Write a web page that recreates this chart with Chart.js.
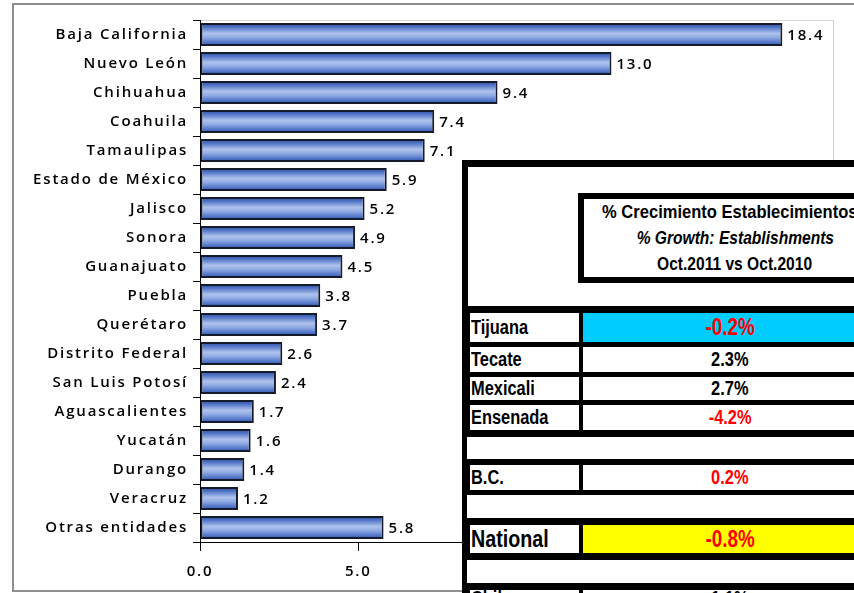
<!DOCTYPE html>
<html>
<head>
<meta charset="utf-8">
<script src="https://cdn.jsdelivr.net/npm/chart.js@4.4.0/dist/chart.umd.min.js"></script>
<style>
  html, body { margin:0; padding:0; width:854px; height:593px; overflow:hidden; background:#fff; }
  #frame { position:absolute; left:12px; top:3px; width:900px; height:585px; border:2px solid #8f8f8f; z-index:0; }
  #c { position:absolute; left:0; top:0; z-index:1; }
  #tbl { position:absolute; left:0; top:0; width:854px; height:593px; z-index:2; overflow:hidden; }
  .blk { position:absolute; background:#000; }
  .cell { position:absolute; background:#fff; overflow:hidden; display:flex; align-items:center;
          font-family:"Liberation Sans", Arial, sans-serif; font-weight:bold; color:#000; white-space:nowrap; }
  .cell span { display:inline-block; transform:scaleX(0.82); }
  .lab span { transform-origin:left center; }
  .val { justify-content:center; }
  .val span { transform-origin:center center; }
  .hdr { position:absolute; overflow:hidden; text-align:center; font-family:"Liberation Sans", Arial, sans-serif;
         font-weight:bold; font-size:19px; line-height:26px; color:#000; white-space:nowrap; }
  .hdr div span { display:inline-block; transform:scaleX(0.82); transform-origin:center center; }
</style>
</head>
<body>
<div id="frame"></div>
<canvas id="c" width="854" height="593"></canvas>
<div id="tbl"></div>
<script>
// ---- chart data ----
const categories = ["Baja California","Nuevo León","Chihuahua","Coahuila","Tamaulipas","Estado de México",
  "Jalisco","Sonora","Guanajuato","Puebla","Querétaro","Distrito Federal","San Luis Potosí",
  "Aguascalientes","Yucatán","Durango","Veracruz","Otras entidades"];
const values = [18.4,13.0,9.4,7.4,7.1,5.9,5.2,4.9,4.5,3.8,3.7,2.6,2.4,1.7,1.6,1.4,1.2,5.8];
const xMin = 0, xMax = 20, xStep = 5;

// ---- table data ----
const headerLines = ["% Crecimiento Establecimientos", "% Growth: Establishments", "Oct.2011 vs Oct.2010"];
const tableLabels = ["Tijuana","Tecate","Mexicali","Ensenada","","B.C.","","National","","Chile"];
const tableValues = ["-0.2%","2.3%","2.7%","-4.2%","","0.2%","","-0.8%","","1.1%"];

// ---- table layout (positions/styles only) ----
const rowLayout = [
  {y:313,h:29,fs:20,vfs:23,bg:"#00CCFF",col:"#FF0000"},
  {y:347,h:25,fs:20,vfs:20,bg:"#fff",col:"#000"},
  {y:377,h:23,fs:20,vfs:20,bg:"#fff",col:"#000"},
  {y:405,h:25,fs:20,vfs:20,bg:"#fff",col:"#FF0000"},
  {y:437,h:22,empty:true},
  {y:465,h:25,fs:20,vfs:20,bg:"#fff",col:"#FF0000"},
  {y:495,h:23,empty:true},
  {y:525,h:28,fs:24,vfs:23,bg:"#FFFF00",col:"#FF0000"},
  {y:560,h:23,empty:true},
  {y:590,h:25,fs:20,vfs:20,bg:"#fff",col:"#000",top:true}
];

const tbl = document.getElementById('tbl');
function box(cls, x, y, w, h, bg) {
  const d = document.createElement('div');
  d.className = cls;
  d.style.left = x + 'px'; d.style.top = y + 'px';
  d.style.width = w + 'px'; d.style.height = h + 'px';
  if (bg) d.style.background = bg;
  tbl.appendChild(d);
  return d;
}
box('blk', 462, 160, 600, 500);
box('cell', 468, 167, 600, 139);
box('blk', 578, 193, 500, 90);
const hdr = box('hdr', 584, 199, 302, 78, '#fff');
headerLines.forEach((t, i) => {
  const line = document.createElement('div');
  const s = document.createElement('span');
  s.textContent = t;
  if (i === 1) s.style.fontStyle = 'italic';
  if (i === 0) s.style.transform = 'translateX(-5px) scaleX(0.87)';
  line.appendChild(s);
  hdr.appendChild(line);
});
tableLabels.forEach((lab, i) => {
  const L = rowLayout[i];
  if (L.empty) { box('cell', 467, L.y, 600, L.h); return; }
  const a = box('cell lab', 470, L.y, 108, L.h);
  a.style.fontSize = L.fs + 'px';
  a.style.paddingLeft = '1px';
  a.innerHTML = '<span></span>';
  a.firstChild.textContent = lab;
  const v = box('cell val', 583, L.y, 294, L.h, L.bg);
  v.style.fontSize = L.vfs + 'px';
  v.style.color = L.col;
  v.innerHTML = '<span></span>';
  v.firstChild.textContent = tableValues[i];
  if (L.top) {
    a.style.alignItems = 'flex-start'; v.style.alignItems = 'flex-start';
    a.style.lineHeight = '16px'; v.style.lineHeight = '16px';
  }
});

// ---- chart ----
const labelFont = { family: '"Open Sans", sans-serif', size: 15, weight: '600' };
const SPACING = '1.8px';

const plotBorder = {
  id: 'plotBorder',
  beforeDraw(chart) {
    const { ctx, chartArea: a } = chart;
    ctx.letterSpacing = SPACING;
    ctx.save();
    ctx.strokeStyle = '#d4d4d4';
    ctx.lineWidth = 1;
    ctx.strokeRect(a.left + 0.5, a.top + 0.5, a.width, a.height);
    ctx.restore();
  }
};
const valueLabels = {
  id: 'valueLabels',
  afterDatasetsDraw(chart) {
    const { ctx } = chart;
    const meta = chart.getDatasetMeta(0);
    ctx.save();
    ctx.letterSpacing = SPACING;
    ctx.font = '600 15px "Open Sans", sans-serif';
    ctx.fillStyle = '#000';
    ctx.textAlign = 'left';
    ctx.textBaseline = 'middle';
    meta.data.forEach((bar, i) => {
      ctx.fillText(values[i].toFixed(1), bar.x + 5, bar.y + 1);
    });
    ctx.restore();
  }
};

function barGradient(context) {
  const chart = context.chart;
  const ys = chart.scales.y;
  if (!chart.chartArea || !ys || context.dataIndex === undefined) return '#6a8bd4';
  const cy = ys.getPixelForValue(context.dataIndex);
  const half = 12;
  const g = chart.ctx.createLinearGradient(0, cy - half, 0, cy + half);
  g.addColorStop(0, '#2c4689');
  g.addColorStop(0.18, '#4a6fc4');
  g.addColorStop(0.45, '#aec2ec');
  g.addColorStop(0.62, '#91abe3');
  g.addColorStop(0.85, '#4b71c7');
  g.addColorStop(1, '#2a4586');
  return g;
}

new Chart(document.getElementById('c'), {
  type: 'bar',
  data: {
    labels: categories,
    datasets: [{
      data: values,
      backgroundColor: barGradient,
      borderColor: '#161b2c',
      borderWidth: 2,
      borderSkipped: false,
      barPercentage: 0.8,
      categoryPercentage: 1.0
    }]
  },
  options: {
    indexAxis: 'y',
    responsive: false,
    animation: false,
    devicePixelRatio: 1,
    layout: { padding: { top: 20, right: 21, left: 0, bottom: 0 } },
    plugins: { legend: { display: false }, tooltip: { enabled: false }, title: { display: false } },
    scales: {
      x: {
        min: xMin, max: xMax,
        ticks: { stepSize: xStep, callback: v => Number(v).toFixed(1), color: '#000', font: labelFont, padding: 12, maxRotation: 0 },
        grid: { drawOnChartArea: false, drawTicks: true, tickLength: 9, color: '#000' },
        border: { color: '#000', width: 1 },
        afterFit(s) { s.height = 51; s.paddingLeft = 0; s.paddingRight = 0; }
      },
      y: {
        ticks: { color: '#000', font: labelFont, padding: 5, autoSkip: false },
        grid: { drawOnChartArea: false, drawTicks: true, tickLength: 7, color: '#000', offset: true },
        border: { color: '#000', width: 1 },
        afterFit(s) { s.width = 200; s.paddingTop = 0; s.paddingBottom = 0; }
      }
    }
  },
  plugins: [plotBorder, valueLabels]
});
</script>
</body>
</html>
